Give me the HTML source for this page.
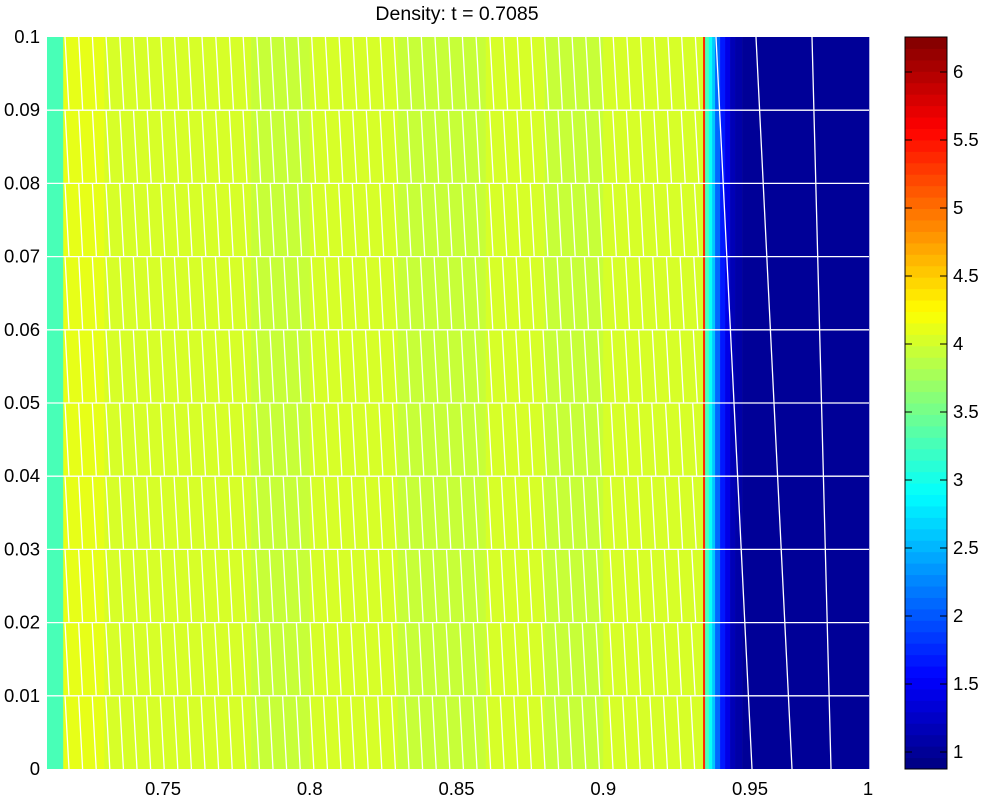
<!DOCTYPE html>
<html><head><meta charset="utf-8"><style>
body{margin:0;background:#fff;width:982px;height:799px;overflow:hidden}
svg text{font-family:"Liberation Sans",sans-serif;font-size:18.5px;fill:#000}
</style></head><body>
<svg id="chart" width="982" height="799" viewBox="0 0 982 799" xmlns="http://www.w3.org/2000/svg">
<text x="457" y="20" text-anchor="middle" style="font-size:19.5px">Density: t = 0.7085</text>
<g id="field"></g>
<g id="mesh"></g>
<g id="axes"></g>
<g id="cbar"></g>
</svg>
<script>
// data
const xEdges = [0.710,0.716,0.73,0.75,0.78,0.80,0.83,0.86,0.88,0.90,0.92,0.9340,0.9347,0.9360,0.9371,0.9381,0.9398,0.9415,0.9432,0.9449,0.9473,1.0];
const rhoVals = [3.3,4.1,4.05,4.0,3.95,4.0,3.95,4.0,3.95,4.0,4.05,5.4,3.3,2.9,2.6,2.1,1.7,1.4,1.2,1.05,0.98];
const xTicks = [0.75,0.8,0.85,0.9,0.95];
const xTickLabels = ["0.75","0.8","0.85","0.9","0.95"];
const yTicks = [0,0.01,0.02,0.03,0.04,0.05,0.06,0.07,0.08,0.09,0.1];
const yTickLabels = ["0","0.01","0.02","0.03","0.04","0.05","0.06","0.07","0.08","0.09","0.1"];
const cTicks = [1,1.5,2,2.5,3,3.5,4,4.5,5,5.5,6];
const cTickLabels = ["1","1.5","2","2.5","3","3.5","4","4.5","5","5.5","6"];
const cMin = 0.875, cMax = 6.257;

const NS="http://www.w3.org/2000/svg";
const L=47,R=869,T=37,B=769;
function sx(v){return 163+(v-0.75)*(750-163)/0.2;}
function sy(v){return B-(v/0.1)*(B-T);}
function jet(v){
  let f=(v-cMin)/(cMax-cMin); f=Math.max(0,Math.min(0.999,f));
  f=(Math.floor(f*64)+0.5)/64;
  const c=t=>Math.round(255*Math.max(0,Math.min(1,1.5-Math.abs(t))));
  return `rgb(${c(4*f-3)},${c(4*f-2)},${c(4*f-1)})`;
}
function mk(tag,attrs,parent){const e=document.createElementNS(NS,tag);for(const k in attrs)e.setAttribute(k,attrs[k]);parent.appendChild(e);return e;}
const field=document.getElementById('field');
for(let i=0;i<rhoVals.length;i++){
  const x0=Math.max(L,sx(xEdges[i])), x1=Math.min(R,sx(xEdges[i+1]));
  const r=mk('rect',{x:x0,y:T,width:Math.max(0.5,x1-x0+0.3),height:B-T,fill:jet(rhoVals[i])},field);
  
  
}
// mesh lines
const mesh=document.getElementById('mesh');
let d="";
for(let x=65;x<702;x+=13.6){
  for(let k=0;k<10;k++){
    const y0=sy((k+1)*0.01), y1=sy(k*0.01);
    const xx=x+ (x-65)/700*6*(k/10);
    d+=`M${xx.toFixed(1)},${y0.toFixed(1)}L${(xx+4).toFixed(1)},${y1.toFixed(1)}`;
  }
}
d+="M756,37L792,769M812,37L831,769M716,37L752,769";
for(let k=1;k<10;k++){const y=sy(k*0.01);d+=`M${L},${y.toFixed(1)}L${R},${y.toFixed(1)}`;}
const mp=mk('path',{d:d,stroke:'#fff','stroke-width':1.3,fill:'none'},mesh);


// axes
const ax=document.getElementById('axes');
xTicks.forEach((v,i)=>{
  const t=mk('text',{x:sx(v),y:795,'text-anchor':'middle'},ax);t.textContent=xTickLabels[i];
  
  
});
const t1=mk('text',{x:868,y:795,'text-anchor':'middle'},ax);t1.textContent="1";


yTicks.forEach((v,i)=>{
  const t=mk('text',{x:40,y:sy(v)+6,'text-anchor':'end'},ax);t.textContent=yTickLabels[i];
  
  
});
// colorbar
const cb=document.getElementById('cbar');
const CL=905,CR=947;
function cy(v){return B-(v-cMin)/(cMax-cMin)*(B-T);}
for(let i=0;i<64;i++){
  const v0=cMin+(cMax-cMin)*i/64, v1=cMin+(cMax-cMin)*(i+1)/64;
  const r=mk('rect',{x:CL,y:cy(v1),width:CR-CL,height:cy(v0)-cy(v1)+0.5,fill:jet((v0+v1)/2)},cb);
  
  
}
const bx=mk('rect',{x:CL,y:T,width:CR-CL,height:B-T,fill:'none',stroke:'#000','stroke-width':1},cb);


cTicks.forEach((v,i)=>{
  const y=cy(v);
  const tk=mk('path',{d:`M${CL},${y}h7M${CR},${y}h-7`,stroke:'#000','stroke-width':1},cb);
  
  
  const t=mk('text',{x:953,y:y+6},cb);t.textContent=cTickLabels[i];
  
  
});
</script>
</body></html>
